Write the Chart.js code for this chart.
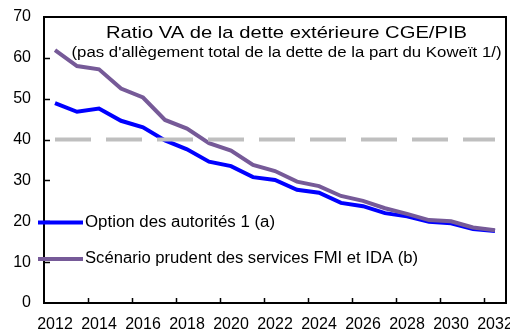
<!DOCTYPE html>
<html>
<head>
<meta charset="utf-8">
<script src="https://cdn.jsdelivr.net/npm/chart.js@4/dist/chart.umd.min.js"></script>
<style>
  html, body { margin: 0; padding: 0; background: #fff; }
  #wrap { width: 510px; height: 333px; }
</style>
</head>
<body>
<div id="wrap"><canvas id="c" width="510" height="333"></canvas></div>
<script>
// Years on the horizontal axis
const years = ['2012','2013','2014','2015','2016','2017','2018','2019','2020','2021','2022',
               '2023','2024','2025','2026','2027','2028','2029','2030','2031','2032'];

// Ratio VA de la dette extérieure CGE/PIB (%)
const optionAutorites = [48.9, 46.8, 47.6, 44.6, 43.0, 39.8, 37.6, 34.6, 33.5, 30.8, 30.1,
                         27.7, 27.0, 24.5, 23.7, 22.0, 21.2, 19.9, 19.5, 18.1, 17.6];
const scenarioPrudent = [61.9, 58.0, 57.2, 52.5, 50.3, 44.8, 42.7, 39.1, 37.3, 33.8, 32.3,
                         29.7, 28.6, 26.2, 25.0, 23.2, 21.8, 20.3, 20.0, 18.5, 17.8];
// Seuil
const seuil = years.map(() => 40);

const yTicks = [0, 10, 20, 30, 40, 50, 60, 70];

const titleText = 'Ratio VA de la dette extérieure CGE/PIB';
const subtitleText = "(pas d'allègement total de la dette de la part du Koweït 1/)";
const labelA = 'Option des autorités 1 (a)';
const labelB = 'Scénario prudent des services FMI et IDA (b)';

const BLUE = '#0000FF';
const PURPLE = '#765A98';
const GREY = '#BFBFBF';
const FONT = '"Liberation Sans", Arial, sans-serif';

// Draw text squeezed/stretched horizontally to a given width
function fitText(ctx, text, x, y, size, width, align) {
  ctx.save();
  ctx.font = size + 'px ' + FONT;
  const w = ctx.measureText(text).width;
  const s = width / w;
  ctx.translate(align === 'center' ? x - width / 2 : x, y);
  ctx.scale(s, 1);
  ctx.textAlign = 'left';
  ctx.textBaseline = 'middle';
  ctx.fillStyle = '#000';
  ctx.fillText(text, 0, 0);
  ctx.restore();
}

const decor = {
  id: 'decor',
  afterDraw(chart) {
    const ctx = chart.ctx;
    const a = chart.chartArea;
    const xs = chart.scales.x, ys = chart.scales.y;
    ctx.save();
    ctx.setLineDash([]);
    ctx.strokeStyle = '#000';
    // frame
    ctx.lineWidth = 2;
    ctx.strokeRect(a.left, a.top, a.right - a.left, a.bottom - a.top);
    // inward tick marks on x at category boundaries (every two years)
    ctx.lineWidth = 1.5;
    ctx.beginPath();
    for (let i = 2; i < years.length; i += 2) {
      const px = Math.round((xs.getPixelForValue(i - 1) + xs.getPixelForValue(i)) / 2) + 0.5;
      ctx.moveTo(px, a.bottom);
      ctx.lineTo(px, a.bottom - 5);
    }
    // inward tick marks on y
    yTicks.forEach(v => {
      if (v === 0 || v === 70) return;
      const py = Math.round(ys.getPixelForValue(v)) + 0.5;
      ctx.moveTo(a.left, py);
      ctx.lineTo(a.left + 6, py);
    });
    ctx.stroke();

    // titles inside the plot
    const cx = 286.5;
    fitText(ctx, titleText, cx, 33, 17, 361, 'center');
    fitText(ctx, subtitleText, cx, 53, 14, 430, 'center');

    // legend
    const items = [
      { ds: chart.data.datasets[0], y: 222.5, w: 190 },
      { ds: chart.data.datasets[1], y: 259, w: 333 }
    ];
    items.forEach(it => {
      ctx.setLineDash([]);
      ctx.strokeStyle = it.ds.borderColor;
      ctx.lineWidth = 4;
      ctx.lineCap = 'butt';
      ctx.beginPath();
      ctx.moveTo(38, it.y);
      ctx.lineTo(83, it.y);
      ctx.stroke();
      fitText(ctx, it.ds.label, 85, it.y, 16, it.w, 'left');
    });
    ctx.restore();
  }
};

new Chart(document.getElementById('c'), {
  type: 'line',
  data: {
    labels: years,
    datasets: [
      { label: labelA, data: optionAutorites, borderColor: BLUE, borderWidth: 4,
        pointRadius: 0, tension: 0, fill: false, order: 2 },
      { label: labelB, data: scenarioPrudent, borderColor: PURPLE, borderWidth: 4,
        pointRadius: 0, tension: 0, fill: false, order: 1 },
      { label: '', data: seuil, borderColor: GREY, borderWidth: 4, borderDash: [36, 15],
        pointRadius: 0, tension: 0, fill: false, order: 0 }
    ]
  },
  options: {
    responsive: false,
    animation: false,
    events: [],
    layout: { padding: { top: 17, right: 4, left: 0, bottom: 0 } },
    plugins: { legend: { display: false }, tooltip: { enabled: false }, title: { display: false } },
    scales: {
      x: {
        type: 'category',
        offset: true,
        grid: { display: false, drawTicks: false },
        border: { display: false },
        ticks: {
          autoSkip: false, maxRotation: 0, padding: 12,
          color: '#000', font: { family: FONT, size: 16 },
          callback: (v, i) => (i % 2 === 0 ? years[i] : '')
        },
        afterFit: s => { s.height = 30; s.paddingLeft = 0; s.paddingRight = 0; }
      },
      y: {
        min: 0, max: 70,
        grid: { display: false, drawTicks: false },
        border: { display: false },
        ticks: {
          stepSize: 10, padding: 13,
          color: '#000', font: { family: FONT, size: 16 },
          callback: v => (yTicks.includes(v) ? String(v) : '')
        },
        afterFit: s => { s.width = 44; s.paddingTop = 0; s.paddingBottom = 0; }
      }
    }
  },
  plugins: [decor]
});
</script>
</body>
</html>
